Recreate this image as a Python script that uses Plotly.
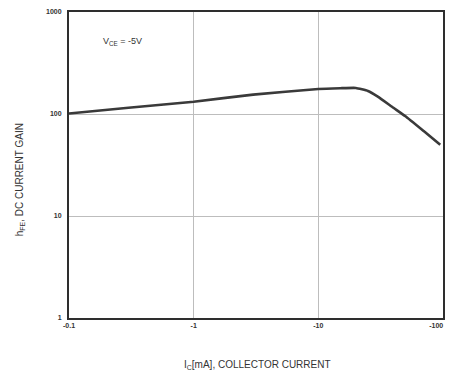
import plotly.graph_objects as go

# Collector current magnitude (mA) and DC current gain
ic_ma = [0.1, 0.3, 1, 3, 10, 15, 20, 25, 30, 40, 50, 70, 95]
hfe = [101, 115, 132, 155, 176, 179, 180, 168, 148, 115, 95, 68, 50]

x_tick_vals = [0.1, 1, 10, 100]
x_tick_text = ["-0.1", "-1", "-10", "-100" + "\u00a0" * 7]
y_tick_vals = [1, 10, 100, 1000]
y_tick_text = ["1", "10", "100", "1000"]

fig = go.Figure()
fig.add_trace(go.Scatter(x=ic_ma, y=hfe, mode="lines",
                         line=dict(color="#3a3a3a", width=2.6, shape="spline", smoothing=0.4),
                         showlegend=False, hoverinfo="skip"))

tick_font = dict(family="Liberation Sans, Arial", size=7, color="#333", weight="bold")
axis_common = dict(type="log", showline=True, linecolor="#2e2e2e", linewidth=2, mirror=True,
                   showgrid=True, gridcolor="#bdbdbd", gridwidth=1, zeroline=False, ticks="",
                   tickfont=tick_font, automargin=False, ticklabeloverflow="allow")

fig.update_xaxes(range=[-1, 2], tickvals=x_tick_vals, ticktext=x_tick_text, ticklabelstandoff=0, **axis_common)
fig.update_yaxes(range=[0, 3], tickvals=y_tick_vals, ticktext=y_tick_text, ticklabelstandoff=4, **axis_common)

title_font = dict(family="Liberation Sans, Arial", size=10, color="#333")
fig.add_annotation(x=0.503, y=-0.154, xref="paper", yref="paper", xanchor="center", yanchor="middle",
                   text="I<sub>C</sub>[mA], COLLECTOR CURRENT", showarrow=False, font=title_font)
fig.add_annotation(x=-0.131, y=0.45, xref="paper", yref="paper", xanchor="center", yanchor="middle",
                   text="h<sub>FE</sub>, DC CURRENT GAIN", textangle=-90, showarrow=False, font=title_font)
fig.add_annotation(x=0.085, y=0.905, xref="paper", yref="paper", xanchor="left", yanchor="middle",
                   text="V<sub>CE</sub> = -5V", showarrow=False,
                   font=dict(family="Liberation Sans, Arial", size=9, color="#333"))

# page body has an 8px default margin, so the figure is offset by 8px inside the window
fig.update_layout(width=449, height=368, margin=dict(l=61, r=14, t=4, b=58),
                  paper_bgcolor="white", plot_bgcolor="white")

fig.write_html("out.html")
